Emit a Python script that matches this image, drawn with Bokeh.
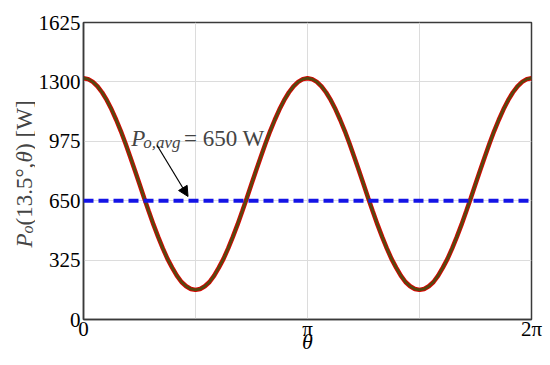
from bokeh.plotting import figure
from bokeh.layouts import row
from bokeh.models import Range1d, FixedTicker, Span, Label, Arrow, NormalHead
from bokeh.embed import file_html
from bokeh.resources import INLINE

# ---- data ----
theta_deg = [0, 3.75, 7.5, 11.25, 15, 18.75, 22.5, 26.25, 30, 33.75, 37.5, 41.25, 45,
             48.75, 52.5, 56.25, 60, 63.75, 67.5, 71.25, 75, 78.75, 82.5, 86.25, 90,
             93.75, 97.5, 101.25, 105, 108.75, 112.5, 116.25, 120, 123.75, 127.5, 131.25, 135,
             138.75, 142.5, 146.25, 150, 153.75, 157.5, 161.25, 165, 168.75, 172.5, 176.25, 180,
             183.75, 187.5, 191.25, 195, 198.75, 202.5, 206.25, 210, 213.75, 217.5, 221.25, 225,
             228.75, 232.5, 236.25, 240, 243.75, 247.5, 251.25, 255, 258.75, 262.5, 266.25, 270,
             273.75, 277.5, 281.25, 285, 288.75, 292.5, 296.25, 300, 303.75, 307.5, 311.25, 315,
             318.75, 322.5, 326.25, 330, 333.75, 337.5, 341.25, 345, 348.75, 352.5, 356.25, 360]
power_w = [1320, 1315, 1300, 1276, 1242, 1200, 1150, 1093, 1031, 963, 891, 817, 741,
           665, 591, 519, 452, 389, 332, 284, 240, 205, 182, 167, 162,
           167, 182, 205, 240, 284, 332, 389, 452, 519, 591, 665, 741,
           817, 891, 963, 1031, 1093, 1150, 1200, 1242, 1276, 1300, 1315, 1320,
           1315, 1300, 1276, 1242, 1200, 1150, 1093, 1031, 963, 891, 817, 741,
           665, 591, 519, 452, 389, 332, 284, 240, 205, 182, 167, 162,
           167, 182, 205, 240, 284, 332, 389, 452, 519, 591, 665, 741,
           817, 891, 963, 1031, 1093, 1150, 1200, 1242, 1276, 1300, 1315, 1320]
p_avg = 650
x_ticks = [0, 1, 2]            # in units of pi
x_tick_labels = {0: "0", 1: "\u03c0", 2: "2\u03c0"}
x_grid = [0.5, 1, 1.5]
y_ticks = [0, 325, 650, 975, 1300, 1625]
y_grid = [325, 650, 975, 1300]

FONT = "Liberation Serif"
LABEL_W = 35
TOP, BOTTOM = 22, 46

x = [d / 180.0 for d in theta_deg]

p = figure(width=550 - LABEL_W, height=365, output_backend="svg", toolbar_location=None,
           x_range=Range1d(0, 2), y_range=Range1d(0, 1625),
           min_border_left=81 - LABEL_W, min_border_right=19, min_border_top=TOP,
           min_border_bottom=BOTTOM,
           background_fill_color="white", border_fill_color="white")

p.outline_line_color = "#3a3a3a"
p.outline_line_width = 1.5

p.xaxis.ticker = FixedTicker(ticks=x_ticks)
p.xaxis.major_label_overrides = x_tick_labels
p.yaxis.ticker = FixedTicker(ticks=y_ticks)
p.xgrid.ticker = FixedTicker(ticks=x_grid)
p.ygrid.ticker = FixedTicker(ticks=y_grid)
for g in (p.xgrid, p.ygrid):
    g.grid_line_color = "#dcdcdc"
    g.grid_line_width = 1

for ax in (p.xaxis, p.yaxis):
    ax.major_label_text_font = FONT
    ax.major_label_text_font_size = "21px"
    ax.major_label_text_color = "black"
    ax.major_tick_out = 0
    ax.major_tick_in = 0
    ax.minor_tick_out = 0
    ax.minor_tick_in = 0
    ax.axis_line_color = "#3a3a3a"
    ax.axis_line_width = 1.5
p.xaxis.major_label_standoff = -3
p.yaxis.major_label_standoff = 3

p.xaxis.axis_label = "\u03b8"
p.xaxis.axis_label_text_font = FONT
p.xaxis.axis_label_text_font_style = "italic"
p.xaxis.axis_label_text_font_size = "22px"
p.xaxis.axis_label_text_color = "black"
p.xaxis.axis_label_standoff = -15

# curve: red trace underneath, dark olive trace on top
p.line(x, power_w, line_color="#e00000", line_width=4.5)
p.line(x, power_w, line_color="#3f5410", line_width=2.8, line_alpha=0.85)

# average line
p.add_layout(Span(location=p_avg, dimension="width", line_color="#1414e6",
                  line_width=4, line_dash="10 5"))

# annotation
p.add_layout(Label(x=0.2133, y=990, text="P", text_font=FONT, text_font_style="italic",
                   text_font_size="23px", text_baseline="alphabetic"))
p.add_layout(Label(x=0.2667, y=968, text="o,avg", text_font=FONT, text_font_style="italic",
                   text_font_size="17px", text_baseline="alphabetic"))
p.add_layout(Label(x=0.4489, y=990, text="= 650 W", text_font=FONT,
                   text_font_size="23px", text_baseline="alphabetic"))
p.add_layout(Arrow(x_start=0.3289, y_start=952, x_end=0.4667, y_end=673,
                   line_color="black", line_width=1.2,
                   end=NormalHead(size=10, fill_color="black", line_color="black")))

# y axis label, in a narrow strip to the left of the chart.
# The strip's frame is aligned with the chart's frame, so its y range is chosen
# to make one data unit equal one pixel (value = 365 - page y).
lab = figure(width=LABEL_W, height=365, output_backend="svg", toolbar_location=None,
             x_range=Range1d(0, LABEL_W), y_range=Range1d(BOTTOM, 365 - TOP),
             x_axis_type=None, y_axis_type=None,
             min_border_left=0, min_border_right=0, min_border_top=TOP, min_border_bottom=BOTTOM,
             background_fill_color="white", border_fill_color="white")
lab.grid.visible = False
lab.outline_line_color = None

yl_x, yl_y = 24, 118
pieces = [("P", "italic", "23px", 0, 0),
          ("o", "italic", "16px", 3, 14),
          ("(13.5\u00b0,", "normal", "23px", 0, 22),
          ("\u03b8", "italic", "23px", 0, 84.9),
          (") [W]", "normal", "23px", 0, 96.6)]
for txt, style, size, xo, yo in pieces:
    lab.add_layout(Label(x=yl_x, y=yl_y, x_offset=xo, y_offset=yo, text=txt, angle=1.5707963,
                         text_font=FONT, text_font_style=style, text_font_size=size,
                         text_align="left", text_baseline="alphabetic"))

layout = row(lab, p)
open("out.html", "w").write(file_html(layout, INLINE))
